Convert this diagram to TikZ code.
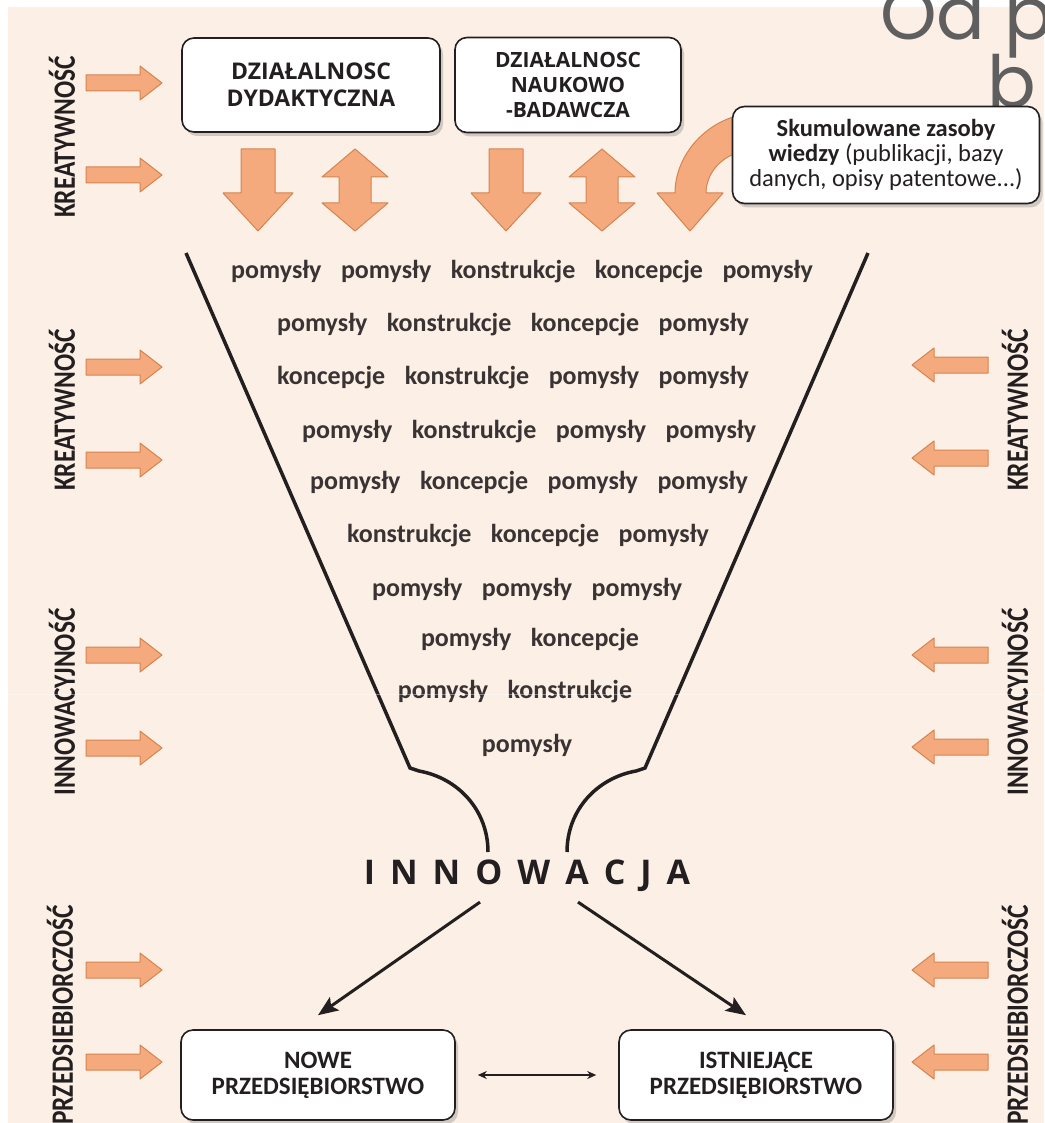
\documentclass[tikz,border=0pt]{standalone}
\usepackage{fontspec}
\usepackage{graphicx}
\setmainfont{Carlito}
\newfontfamily\osfont{Open Sans}
\newfontfamily\popfont{Poppins}
\usetikzlibrary{shadows,arrows.meta}
\definecolor{bgpeach}{HTML}{FCEFE5}
\definecolor{arfill}{HTML}{F4AA7C}
\definecolor{arlight}{HTML}{FAD0B2}
\definecolor{arline}{HTML}{D58450}
\definecolor{ink}{HTML}{231F20}
\definecolor{wordink}{HTML}{3A3334}
\definecolor{titlegray}{HTML}{5F5F5F}
\newcommand\wsp{\hspace{0.75em}}
\newcommand\lsp{\hspace{15pt}}
\newcommand\lblfont{\bfseries\fontsize{31}{31}\selectfont}
\begin{document}
\begin{tikzpicture}[x=1pt,y=-1pt,
  hblk/.style={draw=arline, line width=1pt, line join=round, top color=arfill, middle color=arlight, bottom color=arfill},
  vblk/.style={draw=arline, line width=1pt, line join=round, left color=arfill, middle color=arlight, right color=arfill},
  box/.style={draw=ink, line width=1.6pt, fill=white, rounded corners=12pt,
    drop shadow={shadow xshift=3pt, shadow yshift=-4pt, opacity=0.35},
    align=center, inner sep=0pt, text=ink},
  boxtxt/.style={font=\osfont\bfseries\fontsize{23}{27}\selectfont},
  word/.style={font=\bfseries\fontsize{26}{26}\selectfont, text=wordink, inner sep=0pt},
  lbl/.style={rotate=90, text=ink, inner sep=0pt},
  funnel/.style={line width=3.5pt, draw=ink, line join=miter},
  conn/.style={line width=3pt, draw=ink, -{Stealth[length=20pt,width=16pt,inset=4pt]}},
  dbl/.style={line width=1.3pt, draw=ink, {Stealth[length=9pt,width=8pt]}-{Stealth[length=9pt,width=8pt]}},
  rarr/.pic={\path[hblk] (-38,-8) -- (16,-8) -- (16,-17) -- (38,0) -- (16,17) -- (16,8) -- (-38,8) -- cycle;},
  larr/.pic={\path[hblk] (38,-8) -- (-16,-8) -- (-16,-17) -- (-38,0) -- (-16,17) -- (-16,8) -- (38,8) -- cycle;},
  darr/.pic={\path[vblk] (-17,0) -- (17,0) -- (17,44) -- (35,44) -- (0,82) -- (-35,44) -- (-17,44) -- cycle;},
  udarr/.pic={\path[vblk] (0,0) -- (33,28) -- (16,28) -- (16,54) -- (33,54) -- (0,82) -- (-33,54) -- (-16,54) -- (-16,28) -- (-33,28) -- cycle;}
]
\useasboundingbox (0,0) rectangle (1044,1123);
\fill[white] (0,0) rectangle (1044,1123);
\fill[bgpeach] (8,7) rectangle (1044,1123);

% title fragment
\node[anchor=base west, text=titlegray, inner sep=0pt] (t1) at (880,40) {\popfont\fontsize{72}{72}\selectfont Od p};
\node[anchor=base west, text=titlegray, inner sep=0pt] (t2) at (987,108) {\popfont\fontsize{72}{72}\selectfont b};

% side labels
\node[lbl] (lk1) at (62,137) {\scalebox{0.82}[1]{\lblfont KREATYWNOŚĆ}};
\node[lbl] (lk2) at (62,410) {\scalebox{0.82}[1]{\lblfont KREATYWNOŚĆ}};
\node[lbl] (li) at (62,702) {\scalebox{0.82}[1]{\lblfont INNOWACYJNOŚĆ}};
\node[lbl] (lp) at (60,1015) {\scalebox{0.82}[1]{\lblfont PRZEDSIEBIORCZOŚĆ}};
\node[lbl] (rk) at (1015,410) {\scalebox{0.82}[1]{\lblfont KREATYWNOŚĆ}};
\node[lbl] (ri) at (1015,702) {\scalebox{0.82}[1]{\lblfont INNOWACYJNOŚĆ}};
\node[lbl] (rp) at (1015,1015) {\scalebox{0.82}[1]{\lblfont PRZEDSIEBIORCZOŚĆ}};

\foreach \yy in {83,175,367,460,655,748,970,1062} {\pic at (124,\yy) {rarr};}
\foreach \yy in {365,458,655,747,970,1062} {\pic at (950,\yy) {larr};}

% top arrows
\pic at (258,149) {darr};
\pic at (355,149) {udarr};
\pic at (506,149) {darr};
\pic at (602,149) {udarr};
\path[vblk] (740,115) .. controls (702,124) and (675,158) .. (675,193) -- (657,193) -- (690,231) -- (723,193) -- (706,193) .. controls (706,176) and (718,158) .. (740,152) -- cycle;

% top boxes
\node[box, boxtxt, minimum width=258pt, minimum height=94pt] (dyd) at (311,85) {DZIAŁALNOSC\\DYDAKTYCZNA};
\node[box, boxtxt, minimum width=226pt, minimum height=95pt, font=\osfont\bfseries\fontsize{21}{25}\selectfont] (nauk) at (568,85) {DZIAŁALNOSC\\NAUKOWO\\-BADAWCZA};
\node[box, minimum width=307pt, minimum height=97pt, font=\fontsize{24.5}{25}\selectfont] (zas) at (886,155) {\textbf{Skumulowane zasoby}\\\textbf{wiedzy} (publikacji, bazy\\danych, opisy patentowe...)};

% funnel
\draw[funnel] (186,253) -- (410,768) -- (419,771) .. controls (458,778) and (488,810) .. (488,852);
\draw[funnel] (868,253) -- (645,768) -- (636,771) .. controls (597,778) and (567,810) .. (567,852);

\node[word] (w1) at (522,272) {pomysły\wsp pomysły\wsp konstrukcje\wsp koncepcje\wsp pomysły};
\node[word] (w2) at (513,325) {pomysły\wsp konstrukcje\wsp koncepcje\wsp pomysły};
\node[word] (w3) at (513,378) {koncepcje\wsp konstrukcje\wsp pomysły\wsp pomysły};
\node[word] (w4) at (529,432) {pomysły\wsp konstrukcje\wsp pomysły\wsp pomysły};
\node[word] (w5) at (529,483) {pomysły\wsp koncepcje\wsp pomysły\wsp pomysły};
\node[word] (w6) at (528,536) {konstrukcje\wsp koncepcje\wsp pomysły};
\node[word] (w7) at (527,589) {pomysły\wsp pomysły\wsp pomysły};
\node[word] (w8) at (530,640) {pomysły\wsp koncepcje};
\node[word] (w9) at (515,692) {pomysły\wsp konstrukcje};
\node[word] (w10) at (527,745) {pomysły};

\draw[white, line width=0.6pt, opacity=0.4] (8,694) -- (1044,694);

\node[text=ink, inner sep=2pt] (inn) at (527,876) {\osfont\bfseries\fontsize{34}{34}\selectfont I\lsp N\lsp N\lsp O\lsp W\lsp A\lsp C\lsp J\lsp A};

% bottom boxes
\node[box, minimum width=274pt, minimum height=90pt, font=\bfseries\fontsize{25}{26}\selectfont] (nowe) at (318,1075) {NOWE\\PRZEDSIĘBIORSTWO};
\node[box, minimum width=274pt, minimum height=90pt, font=\bfseries\fontsize{25}{26}\selectfont] (istn) at (756,1075) {ISTNIEJĄCE\\PRZEDSIĘBIORSTWO};

\draw[conn] ([xshift=-47pt,yshift=-8pt]inn.south) -- ([yshift=14pt]nowe.north);
\draw[conn] ([xshift=51pt,yshift=-8pt]inn.south) -- ([xshift=-10pt,yshift=14pt]istn.north);
\draw[dbl] ([xshift=22pt]nowe.east) -- ([xshift=-22pt]istn.west);
\end{tikzpicture}
\end{document}
